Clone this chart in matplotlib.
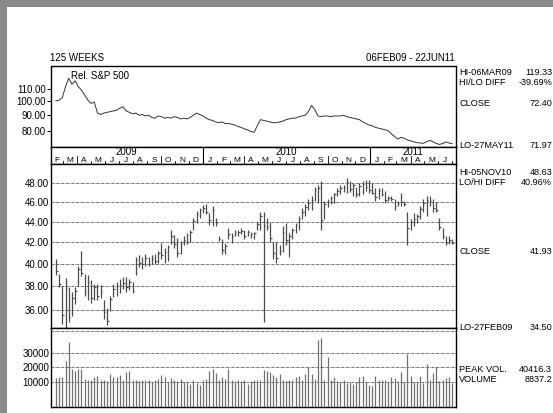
import datetime as dt
import numpy as np
import matplotlib
matplotlib.use("Agg")
import matplotlib.pyplot as plt
from matplotlib.patches import Rectangle
from matplotlib.ticker import NullLocator

plt.rcParams['font.family'] = ['Liberation Sans', 'DejaVu Sans']
plt.rcParams['font.size'] = 7

# weekly data, 06FEB09 - 22JUN11 (125 weeks)
start = dt.date(2009, 2, 6)
n_weeks = 125

rel_sp = [100.5, 101, 103, 112, 119.33, 114, 117, 112, 109, 105,
          101, 98.5, 99.5, 91.5, 90.5, 91.5, 92, 92.5, 93, 93.5,
          95, 96, 93, 92, 91, 91.5, 90, 90.5, 89.5, 90,
          88.5, 88, 89.5, 89, 88, 88.5, 88, 89, 88.5, 87.5,
          88, 87.5, 88.5, 90, 91.5, 90.5, 89.5, 88, 87, 86.5,
          85.5, 85, 85.5, 84.5, 84.5, 84, 83.5, 82.5, 82, 81,
          80.5, 79.5, 79, 83, 87, 86.5, 86, 85.5, 85, 85,
          85.5, 86, 87, 87.5, 88, 88, 89, 89.5, 90, 92.5,
          97, 94, 89.5, 89, 89.5, 89.5, 89, 89.5, 89.5, 89.5,
          90, 89, 88.5, 88, 87.5, 87, 85.5, 84.5, 83.5, 83,
          82, 81.5, 81, 80.5, 80, 78, 76.5, 75, 76, 75.5,
          74.5, 74, 73.5, 73, 72.8, 72.6, 73.5, 74.3, 73.5, 72.6,
          71.97, 72.5, 73.3, 72.8, 72.4]

high = [40.4, 39.1, 38.0, 38.7, 37.9, 37.5, 37.9, 39.8, 41.2, 39.1,
        39.0, 38.5, 38.2, 38.2, 38.1, 36.8, 36.2, 37.2, 38.2, 38.4,
        38.6, 38.8, 38.8, 38.6, 38.4, 40.6, 40.8, 40.6, 40.9, 40.6,
        40.8, 40.9, 41.2, 41.9, 41.4, 41.7, 43.2, 42.7, 42.4, 42.1,
        42.6, 42.9, 43.2, 44.4, 45.1, 45.4, 45.7, 45.8, 44.9, 45.6,
        44.4, 42.6, 42.3, 41.9, 43.4, 42.9, 43.2, 43.2, 43.4, 43.2,
        43.2, 43.0, 43.0, 44.0, 45.0, 45.0, 44.4, 44.0, 42.0, 42.0,
        41.7, 43.6, 43.9, 42.9, 43.4, 43.9, 44.6, 45.4, 45.8, 46.3,
        46.6, 47.6, 47.8, 48.2, 46.1, 46.3, 46.6, 47.0, 47.5, 47.8,
        47.8, 48.63, 48.2, 48.0, 47.6, 48.0, 48.2, 48.4, 48.4, 48.0,
        47.5, 47.5, 47.5, 47.2, 46.6, 46.6, 46.3, 46.1, 47.0, 46.1,
        45.0, 44.3, 44.9, 44.8, 45.6, 46.3, 46.6, 46.6, 46.3, 46.0,
        44.4, 43.4, 42.6, 42.6, 42.3]

low = [39.0, 37.9, 34.9, 34.5, 35.0, 35.5, 36.5, 38.0, 38.9, 37.2,
       36.8, 36.6, 36.8, 36.8, 37.0, 35.3, 34.8, 35.9, 37.1, 37.2,
       37.4, 37.8, 37.5, 37.7, 37.4, 39.0, 39.7, 39.5, 39.8, 39.8,
       40.0, 40.0, 40.1, 40.4, 40.1, 40.2, 41.8, 41.4, 40.6, 40.9,
       41.7, 41.8, 42.0, 43.2, 43.9, 44.4, 44.9, 44.8, 43.7, 43.6,
       43.6, 42.1, 40.9, 40.9, 42.3, 41.9, 42.6, 42.6, 42.8, 42.3,
       42.6, 42.4, 42.3, 43.2, 43.2, 35.0, 43.2, 42.0, 40.4, 40.1,
       40.8, 41.1, 41.7, 40.6, 42.3, 42.9, 43.2, 44.3, 44.6, 45.2,
       45.2, 46.1, 45.9, 43.2, 44.3, 45.5, 45.8, 45.9, 46.6, 46.8,
       47.1, 47.0, 47.1, 46.6, 46.5, 46.6, 46.8, 47.2, 47.0, 46.8,
       46.1, 46.3, 46.6, 45.9, 46.1, 46.1, 45.2, 45.6, 45.6, 45.6,
       41.7, 43.2, 43.6, 43.9, 44.3, 45.0, 44.6, 45.6, 45.0, 45.0,
       43.2, 42.3, 41.7, 41.8, 41.8]

close = [39.3, 38.2, 35.6, 37.8, 35.4, 37.0, 37.6, 39.5, 39.2, 37.6,
         38.4, 37.0, 37.9, 37.2, 37.5, 35.8, 35.1, 36.9, 37.8, 38.0,
         38.1, 38.3, 37.9, 38.4, 37.6, 40.3, 40.1, 40.0, 40.5, 40.0,
         40.4, 40.2, 41.0, 40.8, 41.1, 41.5, 42.6, 41.8, 41.0, 41.8,
         42.2, 42.0, 43.0, 44.1, 44.8, 45.2, 45.4, 45.0, 44.2, 45.2,
         43.9, 42.3, 41.3, 41.6, 42.8, 42.6, 42.9, 43.0, 43.1, 42.6,
         43.0, 42.8, 42.9, 43.8, 44.6, 43.6, 43.5, 42.4, 41.0, 40.5,
         41.2, 43.0, 42.2, 42.6, 43.2, 43.7, 44.3, 45.0, 45.5, 45.9,
         46.2, 47.3, 47.5, 44.2, 45.8, 46.0, 46.4, 46.8, 47.2, 47.5,
         47.6, 48.1, 47.4, 47.8, 46.9, 47.7, 47.9, 47.6, 47.3, 47.0,
         46.5, 47.2, 46.9, 46.2, 46.4, 46.3, 45.6, 45.9, 46.0, 45.8,
         43.4, 44.0, 44.3, 44.6, 45.3, 45.9, 46.2, 46.1, 45.4, 45.2,
         43.5, 42.6, 41.9, 42.2, 41.93]

volume = [12500, 13000, 13500, 24000, 37500, 19000, 17500, 18500, 19000, 12000,
          11500, 11000, 13500, 14000, 11500, 11000, 10500, 15500, 13000, 13500,
          14500, 11500, 16500, 17500, 11500, 11000, 10500, 11500, 11000, 11500,
          9500, 11000, 12000, 14500, 13000, 9500, 12500, 11500, 10500, 12000,
          10000, 9500, 8500, 11000, 9000, 8000, 11500, 12000, 17500, 19000,
          16000, 11500, 13000, 12000, 19000, 11000, 10500, 11500, 10500, 11000,
          8500, 10500, 11000, 11500, 11000, 18000, 17500, 17000, 14500, 13000,
          15500, 11500, 10500, 11000, 11500, 13500, 14000, 11000, 15500, 20000,
          15000, 12000, 39000, 40416.3, 11500, 27000, 11500, 13000, 10500, 9500,
          11000, 9000, 9500, 8500, 10000, 13000, 14000, 9500, 7500, 7000,
          14000, 11000, 11500, 11000, 10000, 13000, 12500, 10500, 16500, 10000,
          29000, 14000, 10000, 9500, 14000, 9000, 22000, 11000, 16000, 20000,
          10500, 11500, 12500, 13000, 8837.2]

rel_ticks = [80, 90, 100, 110]
price_ticks = [36, 38, 40, 42, 44, 46, 48]
vol_ticks = [10000, 20000, 30000]
month_letters = "JFMAMJJASOND"

side_text = [("HI-06MAR09", "119.33", 72.5), ("HI/LO DIFF", "-39.69%", 82.5),
             ("CLOSE", "72.40", 103), ("LO-27MAY11", "71.97", 146),
             ("HI-05NOV10", "48.63", 173), ("LO/HI DIFF", "40.96%", 183),
             ("CLOSE", "41.93", 251), ("LO-27FEB09", "34.50", 327),
             ("PEAK VOL.", "40416.3", 370), ("VOLUME", "8837.2", 380)]

W, H = 553, 413
x = np.arange(n_weeks)
xlim = (-1.7, 125.2)
grid_ls = (0, (3, 1, 1, 1))


def wk(d):
    return (d - start).days / 7 - 1.0


fig = plt.figure(figsize=(W / 100, H / 100), dpi=100)
fig.patch.set_facecolor('#8a8a8a')
fig.add_artist(Rectangle((7 / W, 0), 1, 1 - 7 / H, transform=fig.transFigure,
                         facecolor='white', edgecolor='none', zorder=0))


def box(x0, y0, x1, y1):
    a = fig.add_axes([x0 / W, 1 - y1 / H, (x1 - x0) / W, (y1 - y0) / H])
    a.set_xlim(*xlim)
    a.set_xticks([])
    for s in a.spines.values():
        s.set_linewidth(1.0)
    return a


# relative strength panel
ax1 = box(50.5, 66.5, 456, 147)
ax1.plot(x, rel_sp, color='#333333', lw=0.7)
ax1.set_yscale('log')
ax1.set_ylim(70.6, 130.6)
ax1.yaxis.set_minor_locator(NullLocator())
ax1.set_yticks(rel_ticks)
ax1.set_yticklabels(['%.2f' % v for v in rel_ticks])
ax1.tick_params(axis='y', direction='out', length=3, width=0.7, pad=0.5)
pk = int(np.argmax(rel_sp))
ax1.annotate('Rel. S&P 500', xy=(pk, rel_sp[pk]), xytext=(1.5, 1.5),
             textcoords='offset points', va='center', ha='left')

# month / year strip
ax2 = box(50.5, 147, 456, 164)
ax2.set_ylim(0, 1)
ax2.set_yticks([])
d = dt.date(2009, 2, 1)
while d < dt.date(2011, 7, 1):
    nxt = dt.date(d.year + (d.month == 12), d.month % 12 + 1, 1)
    c0, c1 = max(wk(d), xlim[0]), min(wk(nxt), xlim[1])
    ax2.text((c0 + c1) / 2, 0.02, month_letters[d.month - 1], fontsize=6,
             ha='center', va='bottom')
    if nxt.month == 1:
        ax2.axvline(wk(nxt), color='black', lw=0.8)
    elif nxt.month in (4, 10):
        ax2.plot([wk(nxt)] * 2, [0, 0.5], color='black', lw=0.6)
    else:
        ax2.plot([wk(nxt)] * 2, [0, 0.18], color='black', lw=0.6)
    d = nxt
for yr in (2009, 2010, 2011):
    c0 = max(wk(dt.date(yr, 1, 1)), xlim[0])
    c1 = min(wk(dt.date(yr + 1, 1, 1)), xlim[1])
    ax2.text((c0 + c1) / 2, 0.42, str(yr), fontsize=7, ha='center', va='bottom')

# price panel
ax3 = box(50.5, 164, 456, 328)
ax3.set_yscale('log')
ax3.set_ylim(34.56, 50.15)
ax3.yaxis.set_minor_locator(NullLocator())
ax3.set_yticks(price_ticks)
ax3.set_yticklabels(['%.2f' % v for v in price_ticks])
ax3.tick_params(axis='y', length=0, pad=1)
ax3.grid(axis='y', color='#555555', lw=0.6, linestyle=grid_ls)
ax3.vlines(x, low, high, color='#4a4a4a', lw=0.9)
ax3.hlines(close, x, x + 0.5, color='#4a4a4a', lw=0.8)

# volume panel
ax4 = box(50.5, 328, 456, 407)
ax4.set_ylim(-7450, 47030)
ax4.set_yticks(vol_ticks)
ax4.set_yticklabels(['%d' % v for v in vol_ticks])
ax4.tick_params(axis='y', length=0, pad=1)
ax4.grid(axis='y', color='#555555', lw=0.6, linestyle=grid_ls)
ax4.axhline(44970, color='#555555', lw=0.6, linestyle=grid_ls)
ax4.vlines(x, -7450, volume, color='#707070', lw=0.9)

# header and side annotations
fig.text(50 / W, 1 - 58 / H, '125 WEEKS', va='center', ha='left')
fig.text(455 / W, 1 - 58 / H, '06FEB09 - 22JUN11', va='center', ha='right')
for lab, val, ypix in side_text:
    fig.text(459 / W, 1 - ypix / H, lab, va='center', ha='left', fontsize=6.6)
    fig.text(552 / W, 1 - ypix / H, val, va='center', ha='right', fontsize=6.6)

fig.savefig('out.png', dpi=100)
